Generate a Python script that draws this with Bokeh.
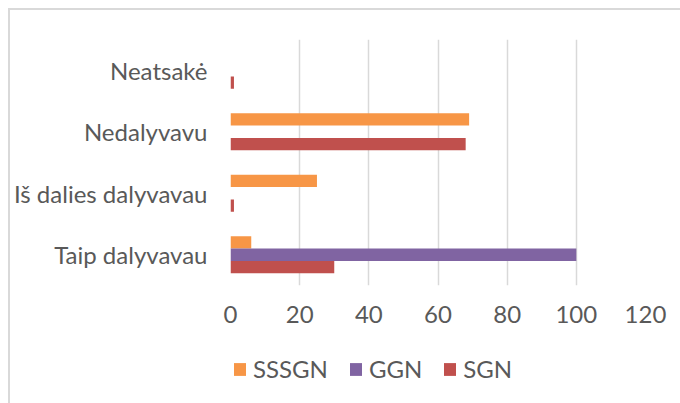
from bokeh.plotting import figure
from bokeh.layouts import column
from bokeh.models import ColumnDataSource, FactorRange, Legend, LegendItem, FixedTicker, Range1d
from bokeh.transform import dodge
from bokeh.embed import file_html
from bokeh.resources import INLINE

categories = ["Taip dalyvavau", "Iš dalies dalyvavau", "Nedalyvavu", "Neatsakė"]
series = ["SSSGN", "GGN", "SGN"]
sssgn = [6, 25, 69, 0]
ggn = [100, 0, 0, 0]
sgn = [30, 1, 68, 1]
x_ticks = [0, 20, 40, 60, 80, 100, 120]

colors = {"SSSGN": "#F79646", "GGN": "#8064A2", "SGN": "#C0504D"}
offsets = {"SSSGN": 0.2, "GGN": 0.0, "SGN": -0.2}
FONT = "Lato"
FS = "24px"
TXT = "#595959"

src = ColumnDataSource(dict(cat=categories, SSSGN=sssgn, GGN=ggn, SGN=sgn))

p = figure(width=670, height=330, output_backend="svg", toolbar_location=None,
           y_range=FactorRange(*categories), x_range=Range1d(0, 120),
           min_border_left=220, min_border_right=35, min_border_top=29, min_border_bottom=55,
           outline_line_color=None)

for s in series:
    p.hbar(y=dodge("cat", offsets[s], range=p.y_range), left=0, right=s,
           height=0.2, source=src, fill_color=colors[s], line_color=None)

p.xaxis.ticker = FixedTicker(ticks=x_ticks)
p.xgrid.ticker = FixedTicker(ticks=x_ticks)
p.xgrid.grid_line_color = "#d9d9d9"
p.xgrid.grid_line_width = 1.5
p.ygrid.grid_line_color = None

for ax in (p.xaxis[0], p.yaxis[0]):
    ax.axis_line_color = None
    ax.major_tick_line_color = None
    ax.minor_tick_line_color = None
    ax.major_tick_out = 0
    ax.major_tick_in = 0
    ax.major_label_text_font = FONT
    ax.major_label_text_font_size = FS
    ax.major_label_text_color = TXT
p.yaxis.major_label_standoff = 23
p.xaxis.major_label_standoff = 20

# legend strip below the chart (keys drawn from off-screen swatch renderers)
pl = figure(width=670, height=63, output_backend="svg", toolbar_location=None,
            x_range=Range1d(0, 1), y_range=Range1d(0, 1), min_border=0,
            outline_line_color=None)
pl.axis.visible = False
pl.grid.visible = False
items = []
for s in series:
    r = pl.quad(left=[-5], right=[-4], bottom=[-5], top=[-4], fill_color=colors[s], line_color=None)
    items.append(LegendItem(label=s, renderers=[r]))

legend = Legend(items=items, orientation="horizontal", location=(2, 20),
                glyph_width=15, glyph_height=16, label_standoff=6, spacing=20,
                padding=0, margin=0, border_line_color=None, background_fill_alpha=0,
                label_text_font=FONT, label_text_font_size=FS, label_text_color=TXT)
pl.add_layout(legend, "center")

layout = column(p, pl, spacing=0,
                styles={"margin-left": "8px", "margin-top": "8px",
                        "border-left": "2px solid #d9d9d9", "border-top": "2px solid #d9d9d9"})

open("out.html", "w").write(file_html(layout, INLINE))
